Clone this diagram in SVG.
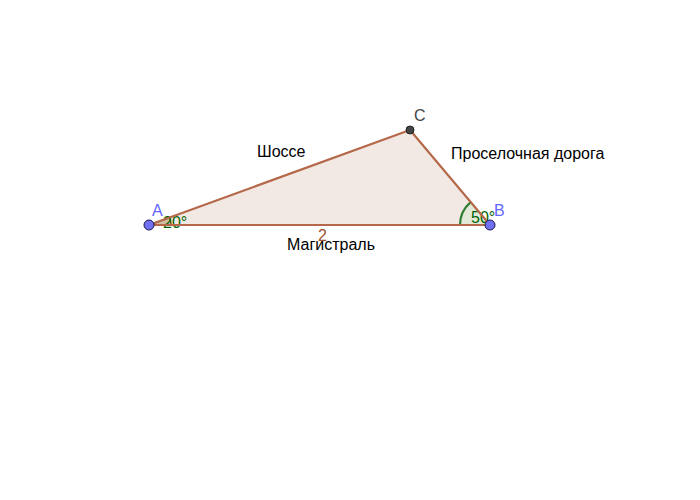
<svg xmlns="http://www.w3.org/2000/svg" width="700" height="500" viewBox="0 0 700 500">
<style>
text{font-family:"Liberation Sans",Arial,sans-serif;font-size:16px}
.lbl{fill:#000}
.pt{fill:#7070f0;stroke:#1a1a50;stroke-width:1}
.edge{stroke:#b5694a;stroke-width:2.2;fill:none;stroke-linecap:round}
</style>
<rect width="700" height="500" fill="#fff"/>
<g id="triangle">
<polygon points="149,225 490,225 410,130" fill="#f3e9e4" stroke="none"/>
</g>
<g id="angleA">
<path d="M149,225 L171,225 A22,22 0 0 0 169.7,217.5 Z" fill="#8a6a2a" fill-opacity="0.35" stroke="#6b5a1a" stroke-width="1.5"/>
<text x="163" y="228" fill="#006400">20°</text>
</g>
<g id="angleB">
<path d="M490,225 L460,225 A30,30 0 0 1 470.7,202.1 Z" fill="#d7ead0" fill-opacity="0.6" stroke="none"/>
<path d="M460,225 A30,30 0 0 1 470.7,202.1" fill="none" stroke="#2e7d32" stroke-width="2.2"/>
<line x1="460" y1="225" x2="490" y2="225" stroke="#6b5a1a" stroke-width="2"/>
<text x="471" y="223" fill="#006400">50°</text>
</g>
<g id="connectors">
<line class="edge" x1="149" y1="225" x2="490" y2="225"/>
<line class="edge" x1="149" y1="225" x2="410" y2="130"/>
<line class="edge" x1="410" y1="130" x2="490" y2="225"/>
</g>
<g id="labels">
<text x="257" y="157" class="lbl">Шоссе</text>
<text x="451" y="159" class="lbl">Проселочная дорога</text>
<text x="318" y="241" fill="#a0522d">2</text>
<text x="287" y="250" class="lbl">Магистраль</text>
</g>
<g id="A">
<circle class="pt" cx="149" cy="225" r="5"/>
<text x="152" y="216" fill="#6666ff">A</text>
</g>
<g id="B">
<circle class="pt" cx="490" cy="225" r="5"/>
<text x="494" y="216" fill="#6666ff">B</text>
</g>
<g id="C">
<circle cx="410" cy="130" r="4" fill="#444" stroke="#222" stroke-width="1"/>
<text x="414" y="121" fill="#444">C</text>
</g>
</svg>
